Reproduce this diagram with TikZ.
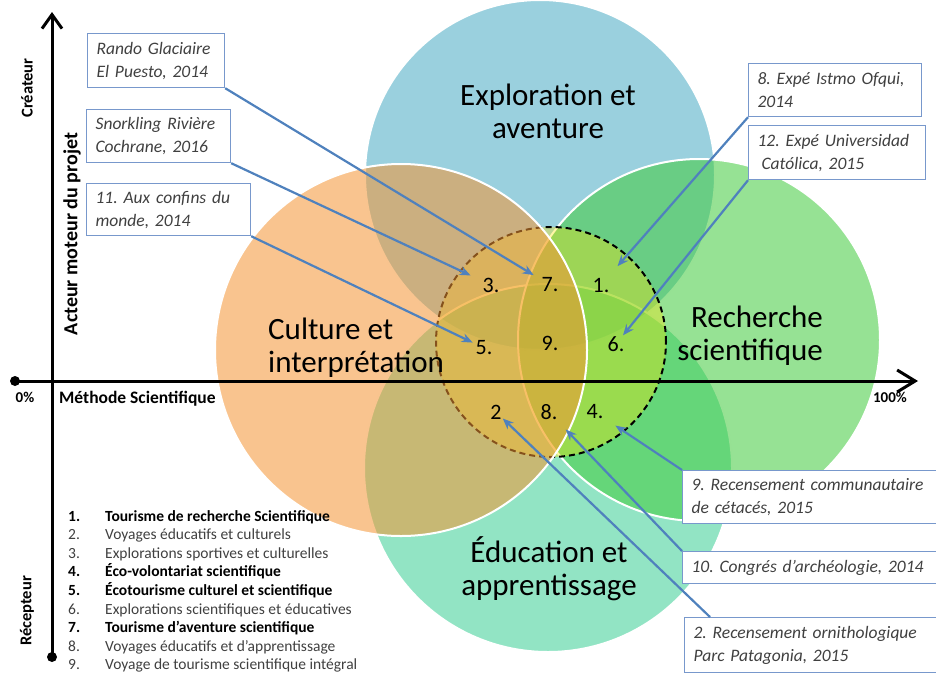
\documentclass[tikz,border=0pt]{standalone}
\usepackage{fontspec}
\setmainfont{Carlito}
\usetikzlibrary{arrows.meta}
\frenchspacing

\definecolor{aqua}{RGB}{71,170,195}
\definecolor{peach}{RGB}{244,148,51}
\definecolor{leaf}{RGB}{64,202,60}
\definecolor{mint}{RGB}{57,206,148}
\definecolor{citron}{RGB}{255,230,0}
\definecolor{pinblue}{RGB}{79,129,189}
\definecolor{boxline}{RGB}{120,152,204}
\definecolor{inkgray}{RGB}{64,64,64}

\tikzset{
  venn/.style={fill=#1, fill opacity=0.55, draw=white, line width=2pt},
  biglabel/.style={font=\fontsize{31}{33}\selectfont, inner sep=0pt},
  casebox/.style={draw=boxline, line width=1.2pt, fill=white, anchor=north west,
    inner xsep=9pt, align=left, text=inkgray, font=\fontsize{17.5}{23}\selectfont\itshape},
  num/.style={font=\fontsize{22}{24}\selectfont, inner sep=1pt},
  pin/.style={draw=pinblue, line width=2.2pt, -{Stealth[length=11pt,width=9pt]}},
  axis/.style={line width=3pt},
  axlabel/.style={font=\fontsize{16.5}{18}\selectfont\bfseries},
  legitem/.style={anchor=base west, inner sep=0pt, font=\fontsize{15.5}{17}\selectfont},
  legstrong/.style={text=black, font=\fontsize{15.5}{17}\selectfont\bfseries},
  legplain/.style={text=inkgray},
}

\begin{document}
\begin{tikzpicture}[x=1pt, y=-1pt]
  \useasboundingbox (0,0) rectangle (936,673);

  % the four domains
  \path[venn=aqua] (540,175) circle[radius=175pt];
  \path[venn=mint] (548,468) circle[radius=184pt];
  \path[venn=leaf] (699,340) circle[radius=181pt];
  % core zone
  \path[fill=citron, fill opacity=0.35, draw=black, line width=2pt,
    dash pattern=on 6pt off 4pt] (551,342) circle[radius=115pt];
  \path[venn=peach] (401,350) circle[radius=186pt];

  \node[biglabel, align=center] (explo) at (548,111) {Exploration et\\aventure};
  \node[biglabel, align=left, anchor=west] (culture) at (268,348) {Culture et\\interprétation};
  \node[biglabel, align=right, anchor=east] (recherche) at (823,336) {Recherche\\scientifique};
  \node[biglabel, align=center] (educ) at (549,569) {Éducation et\\apprentissage};

  % axes
  \coordinate (ybot) at (52,657);
  \coordinate (ytop) at (52,12);
  \coordinate (xleft) at (15,381);
  \coordinate (xright) at (918,381);
  \draw[axis, -{Straight Barb[length=14pt,width=20pt]}] (ybot) -- (ytop);
  \draw[axis, -{Straight Barb[length=18pt,width=22pt]}] (xleft) -- (xright);
  \fill (ybot) circle[radius=5pt];
  \fill (xleft) circle[radius=5pt];

  \node[axlabel, rotate=90] (createur) at (27,88) {Créateur};
  \node[axlabel, rotate=90, font=\fontsize{20}{22}\selectfont\bfseries] (acteur) at (72,234) {Acteur moteur du projet};
  \node[axlabel, rotate=90] (recepteur) at (27,611) {Récepteur};
  \node[font=\fontsize{15}{17}\selectfont\bfseries] (zero) at (25,397) {0\%};
  \node[font=\fontsize{15}{17}\selectfont\bfseries] (cent) at (890,397) {100\%};
  \node[font=\fontsize{17.5}{19}\selectfont\bfseries, anchor=west, inner sep=0pt] (methode) at (59,399) {Méthode Scientifique};

  % zones
  \node[num] (n3) at (491,285) {3.};
  \node[num] (n7) at (550,285) {7.};
  \node[num] (n1) at (601,285) {1.};
  \node[num] (n5) at (484,348) {5.};
  \node[num] (n9) at (550,343) {9.};
  \node[num] (n6) at (616,344) {6.};
  \node[num] (n2) at (496,412) {2};
  \node[num] (n8) at (549,412) {8.};
  \node[num] (n4) at (595,412) {4.};

  % projects
  \node[casebox, text width=119pt, minimum height=54pt] (rando) at (87,33) {Rando Glaciaire\\El Puesto, 2014};
  \node[casebox, text width=126pt, minimum height=53pt] (snork) at (86,109) {Snorkling Rivière\\Cochrane, 2016};
  \node[casebox, text width=146pt, minimum height=52pt] (confins) at (86,183) {11. Aux confins du\\monde, 2014};
  \node[casebox, text width=155pt, minimum height=53pt] (ofqui) at (748,63) {8. Expé Istmo Ofqui,\\2014};
  \node[casebox, text width=159pt, minimum height=54pt] (uc) at (748,125) {12. Expé Universidad\\\hspace*{4pt}Católica, 2015};
  \node[casebox, text width=244pt, minimum height=53pt] (cetaces) at (682,470) {9. Recensement communautaire\\de cétacés, 2015};
  \node[casebox, text width=244pt, minimum height=32pt] (archeo) at (682,551) {10. Congrés d’archéologie, 2014};
  \node[casebox, text width=244pt, minimum height=55pt] (ornitho) at (684,617) {2. Recensement ornithologique\\Parc Patagonia, 2015};

  \draw[pin, shorten >=8pt] (rando.south east) -- (n7);
  \draw[pin, shorten >=12pt] (snork.south east) -- (n3);
  \draw[pin, shorten >=2pt] (confins.south east) -- (n5);
  \draw[pin, shorten >=14pt] (ofqui.south west) -- (n1);
  \draw[pin] (uc.south west) -- (n6);
  \draw[pin, shorten >=13pt] (cetaces.north west) -- (n4);
  \draw[pin, shorten >=12pt] (archeo.north west) -- (n8);
  \draw[pin] ([xshift=26pt]ornitho.north west) -- (n2);

  % legend
  \foreach \i/\item/\sty in {
      1/Tourisme de recherche Scientifique/legstrong,
      2/Voyages éducatifs et culturels/legplain,
      3/Explorations sportives et culturelles/legplain,
      4/Éco-volontariat scientifique/legstrong,
      5/Écotourisme culturel et scientifique/legstrong,
      6/Explorations scientifiques et éducatives/legplain,
      7/Tourisme d’aventure scientifique/legstrong,
      8/Voyages éducatifs et d’apprentissage/legplain,
      9/Voyage de tourisme scientifique intégral/legplain} {
    \node[legitem, \sty] (num\i) at (68,{502.4+18.6*\i}) {\i.};
    \node[legitem, \sty] (leg\i) at (105,{502.4+18.6*\i}) {\item};
  }
\end{tikzpicture}
\end{document}
